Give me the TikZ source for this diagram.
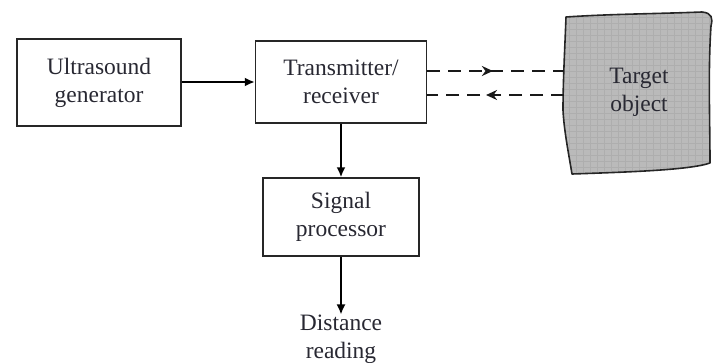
\documentclass[tikz,border=0pt]{standalone}
\usepackage{fontspec}
\setmainfont{Liberation Serif}
\usetikzlibrary{arrows.meta,decorations.markings}
\definecolor{objgray}{RGB}{186,186,186}
\definecolor{objline}{RGB}{174,174,174}
\definecolor{txt}{RGB}{40,40,50}
\begin{document}
\begin{tikzpicture}[x=1pt,y=-1pt,
  blk/.style={draw=black!85,line width=1.5pt,align=center,inner sep=0pt,
    font=\fontsize{23.5}{28}\selectfont,text=txt},
  lbl/.style={align=center,inner sep=0pt,font=\fontsize{23.5}{28}\selectfont,text=txt},
  sarrow/.style={draw=black,line width=1.8pt,-{Latex[length=10pt,width=9pt]}},
  darrow/.style={draw=black!90,line width=2.4pt,dash pattern=on 13pt off 8pt,
    postaction={decorate},
    decoration={markings,mark=at position #1 with {\arrow{Stealth[length=11pt,width=10pt]}}}}]
\useasboundingbox (0,0) rectangle (724,362);
% blocks
\node[blk,minimum width=164pt,minimum height=87pt] (gen) at (99,82.5) {Ultrasound\\generator};
\node[blk,minimum width=171pt,minimum height=82pt] (tx) at (341,82) {Transmitter/\\receiver};
\node[blk,minimum width=156pt,minimum height=78pt] (sp) at (341,217) {Signal\\processor};
\node[lbl] (dr) at (341,339) {Distance\\reading};
% target object
\begin{scope}
\path[clip] (566,17) .. controls (610,14) and (650,14) .. (702,12)
  .. controls (712,13) and (713,18) .. (711,26)
  .. controls (708,70) and (710,120) .. (710,163)
  .. controls (690,170) and (630,172) .. (572,174)
  .. controls (568,150) and (564,130) .. (563,110)
  .. controls (563,80) and (565,45) .. (566,17) -- cycle;
\fill[objgray] (555,5) rectangle (720,180);
\foreach \i in {0,6,...,170} {
  \draw[objline,line width=0.5pt] (555,{5+\i}) -- (720,{5+\i});
}
\foreach \i in {0,7,...,165} {
  \draw[objline,line width=0.4pt] ({555+\i},5) -- ({555+\i},180);
}
\end{scope}
\draw[black!85,line width=1.6pt,line join=round] (566,17) .. controls (610,14) and (650,14) .. (702,12)
  .. controls (712,13) and (713,18) .. (711,26)
  .. controls (708,70) and (710,120) .. (710,163)
  .. controls (690,170) and (630,172) .. (572,174)
  .. controls (568,150) and (564,130) .. (563,110)
  .. controls (563,80) and (565,45) .. (566,17) -- cycle;
\node[lbl] (tgt) at (639,92) {Target\\object};
\coordinate (tA) at (564,71);
\coordinate (tB) at (564,95);
% connectors
\draw[sarrow] (gen.east |- 0,82) -- (tx.west |- 0,82);
\draw[sarrow] (tx.south) -- (sp.north);
\draw[sarrow] (sp.south) -- (dr.north);
\draw[darrow=0.48] (tx.east |- tA) -- (tA);
\draw[darrow=0.57] (tB) -- (tx.east |- tB);
\end{tikzpicture}
\end{document}
